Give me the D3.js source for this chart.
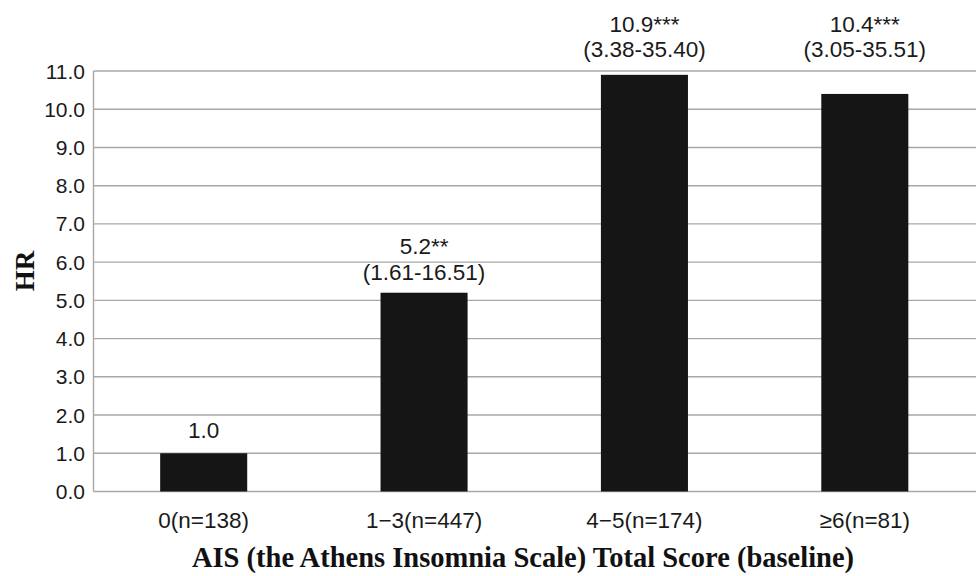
<!DOCTYPE html>
<html>
<head>
<meta charset="utf-8">
<script src="https://cdn.jsdelivr.net/npm/d3@7"></script>
<style>
  html, body { margin: 0; padding: 0; background: #fff; }
  svg { display: block; }
</style>
</head>
<body>
<svg id="chart" width="976" height="576"></svg>
<script>
const categories = ["0(n=138)", "1\u22123(n=447)", "4\u22125(n=174)", "\u22656(n=81)"];
const hrValues = [1.0, 5.2, 10.9, 10.4];
const hrLabels = ["1.0", "5.2**", "10.9***", "10.4***"];
const ciLabels = ["", "(1.61-16.51)", "(3.38-35.40)", "(3.05-35.51)"];
const yTicks = [0,1,2,3,4,5,6,7,8,9,10,11];

const svg = d3.select("#chart");
const x = d3.scaleBand().domain(categories).range([93.5, 975]).paddingInner(0.605).paddingOuter(0.3025);
const y = d3.scaleLinear().domain([0, 11]).range([491.5, 71]);
const grey = "#a8a8a8";
const sans = "Liberation Sans, Arial, sans-serif";
const serif = "Liberation Serif, Times New Roman, serif";

// gridlines
svg.append("g").selectAll("line").data(yTicks).join("line")
  .attr("x1", 93.5).attr("x2", 976)
  .attr("y1", d => y(d)).attr("y2", d => y(d))
  .attr("stroke", grey).attr("stroke-width", 1.4);

// y axis line
svg.append("line").attr("x1", 93.5).attr("x2", 93.5).attr("y1", y(11)).attr("y2", y(0))
  .attr("stroke", grey).attr("stroke-width", 1.4);

// y tick labels
svg.append("g").selectAll("text").data(yTicks).join("text")
  .attr("x", 85).attr("y", d => y(d)).attr("dy", "0.36em")
  .attr("text-anchor", "end")
  .attr("font-family", sans).attr("font-size", 21)
  .attr("fill", "#1a1a1a")
  .text(d => d3.format(".1f")(d));

// bars
svg.append("g").selectAll("rect").data(hrValues).join("rect")
  .attr("x", (d, i) => x(categories[i]))
  .attr("width", x.bandwidth())
  .attr("y", d => y(d))
  .attr("height", d => y(0) - y(d))
  .attr("fill", "#151515");

// value labels
const topRow = y(11) - 14;
const lab = svg.append("g").attr("font-family", sans)
  .attr("font-size", 22.5).attr("fill", "#1a1a1a").attr("text-anchor", "middle");
hrValues.forEach((v, i) => {
  const cx = x(categories[i]) + x.bandwidth() / 2;
  const last = v >= 10 ? topRow : y(v) - 13;
  if (ciLabels[i]) {
    lab.append("text").attr("x", cx).attr("y", last - 25.5).text(hrLabels[i]);
    lab.append("text").attr("x", cx).attr("y", last).text(ciLabels[i]);
  } else {
    lab.append("text").attr("x", cx).attr("y", last - 2).text(hrLabels[i]);
  }
});

// x labels
svg.append("g").selectAll("text").data(categories).join("text")
  .attr("x", d => x(d) + x.bandwidth() / 2).attr("y", 528)
  .attr("text-anchor", "middle")
  .attr("font-family", sans).attr("font-size", 22.5)
  .attr("fill", "#1a1a1a")
  .text(d => d);

// axis titles
svg.append("text").attr("x", 523).attr("y", 567).attr("text-anchor", "middle")
  .attr("font-family", serif).attr("font-weight", "bold")
  .attr("font-size", 28.5).attr("fill", "#111")
  .text("AIS (the Athens Insomnia Scale)  Total Score (baseline)");

svg.append("text").attr("transform", "translate(34,271) rotate(-90)").attr("text-anchor", "middle")
  .attr("font-family", serif).attr("font-weight", "bold")
  .attr("font-size", 27).attr("fill", "#111")
  .text("HR");
</script>
</body>
</html>
